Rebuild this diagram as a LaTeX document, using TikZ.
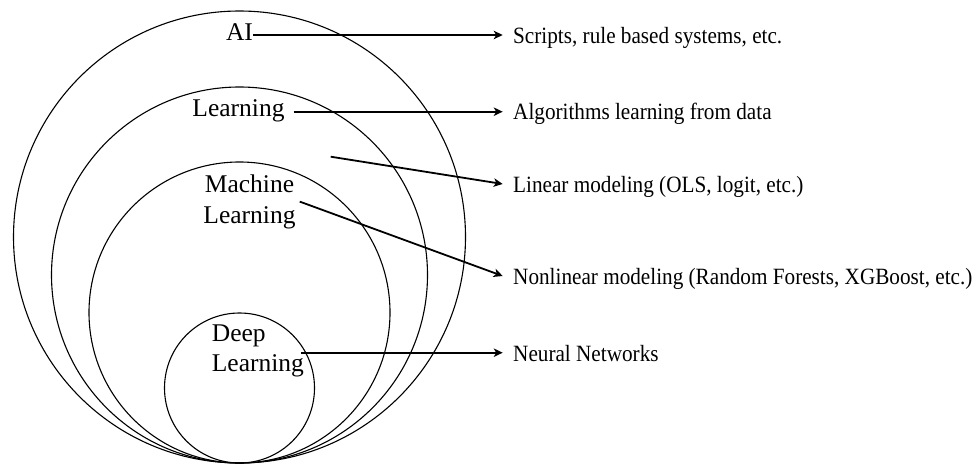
\documentclass[tikz,border=0pt]{standalone}
\usepackage{fontspec}
\usepackage{graphicx}
\setmainfont{Liberation Serif}
\usetikzlibrary{arrows.meta,calc}
\newcommand\rlab[1]{\scalebox{1}[1.1]{#1}}
\begin{document}
\begin{tikzpicture}[x=1pt,y=-1pt,
  ring/.style={draw=black,line width=1.1pt},
  big/.style={inner sep=0pt,font=\fontsize{25.5}{31}\selectfont},
  lab/.style={inner sep=0pt,anchor=base west,font=\fontsize{21.2}{25}\selectfont},
  arr/.style={line width=1.8pt,-{Stealth[length=9pt,width=8.5pt,inset=2.5pt]}}]
\useasboundingbox (0,0) rectangle (979,465);
% circles, all touching at the bottom
\draw[ring] (239.5,237) circle[radius=226pt];
\draw[ring] (239.5,275) circle[radius=188pt];
\draw[ring] (239.5,312.5) circle[radius=150.5pt];
\draw[ring] (239.5,388) circle[radius=75pt];
% circle labels
\node[big,anchor=base] (ai) at (239.5,40.7) {AI};
\node[big,anchor=base] (lear) at (238.5,117) {Learning};
\node[big,align=center] (ml) at (249.5,201.6) {Machine\\Learning};
\node[big,align=left,anchor=west,font=\fontsize{25.5}{30}\selectfont] (dl) at (211.7,351) {Deep\\Learning};
\coordinate (lin) at (330.7,156.7);
% right labels
\node[lab] (t1) at (513,43.3) {\rlab{Scripts, rule based systems, etc.}};
\node[lab] (t2) at (513,120) {\rlab{Algorithms learning from data}};
\node[lab] (t3) at (513,192.3) {\rlab{Linear modeling (OLS, logit, etc.)}};
\node[lab] (t4) at (513,284.3) {\rlab{Nonlinear modeling (Random Forests, XGBoost, etc.)}};
\node[lab] (t5) at (513,361) {\rlab{Neural Networks}};
% arrows
\draw[arr] ($(ai.base east)+(0,-5.7)$) -- ($(t1.base west)+(-10.3,-8.3)$);
\draw[arr] ($(lear.base east)+(9,-5.3)$) -- ($(t2.base west)+(-10.3,-8.3)$);
\draw[arr] (lin) -- ($(t3.base west)+(-10.3,-8.3)$);
\draw[arr] ($(ml.east)+(4,0)$) -- ($(t4.base west)+(-10.3,-8.3)$);
\draw[arr] ($(dl.east)+(-3,1.7)$) -- ($(t5.base west)+(-10.3,-8.3)$);
\end{tikzpicture}
\end{document}
